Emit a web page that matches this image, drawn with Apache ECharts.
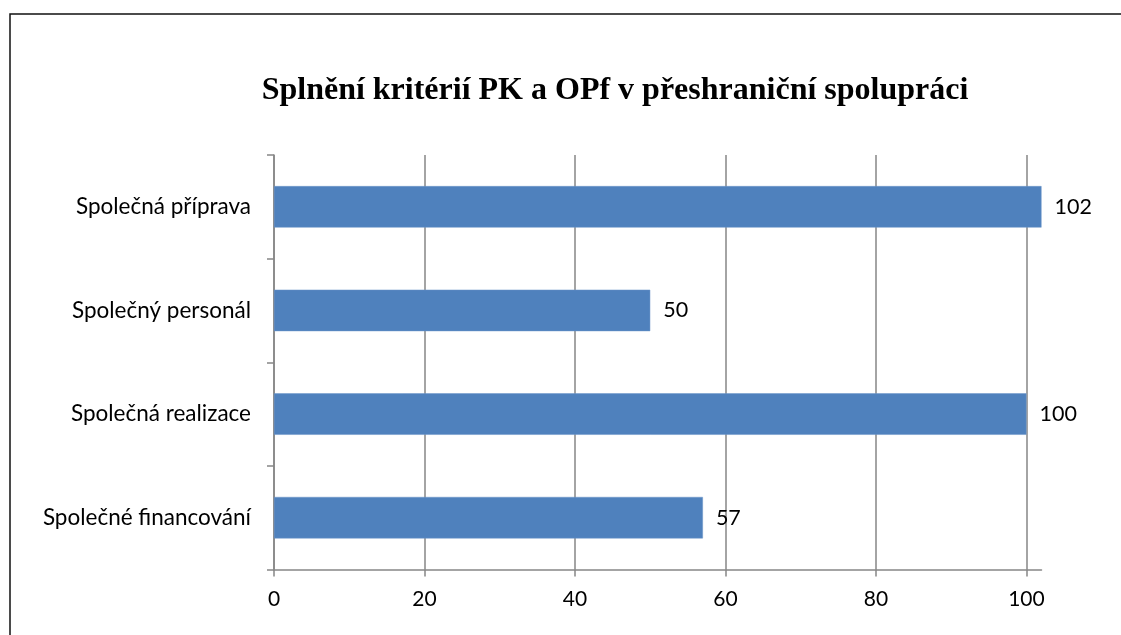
<!DOCTYPE html>
<html>
<head>
<meta charset="utf-8">
<script src="https://cdn.jsdelivr.net/npm/echarts@6/dist/echarts.min.js"></script>
<style>
  html, body { margin: 0; padding: 0; background: #fff; }
  #main { width: 1121px; height: 635px; }
</style>
</head>
<body>
<div id="main"></div>
<script>
// data
var chartTitle = 'Splnění kritérií PK a OPf v přeshraniční spolupráci';
var categories = ['Společné financování', 'Společná realizace', 'Společný personál', 'Společná příprava'];
var values = [57, 100, 50, 102];
var xTicks = [0, 20, 40, 60, 80, 100];

var myChart = echarts.init(document.getElementById('main'));

var labelFont = 'Lato, "Open Sans", "Noto Sans", sans-serif';

option = {
    animation: false,
    title: {
        text: chartTitle,
        left: 610,
        textAlign: 'center',
        top: 70,
        textStyle: {
            fontFamily: '"Liberation Serif", "Times New Roman", serif',
            fontWeight: 'bold',
            fontSize: 32,
            color: '#000'
        }
    },
    graphic: [{
        type: 'rect',
        shape: { x: 10, y: 14, width: 1200, height: 700 },
        style: { fill: 'none', stroke: '#111', lineWidth: 1.5 },
        silent: true
    }],
    grid: {
        left: 274,
        right: 79.5,
        top: 155,
        bottom: 65.5,
        containLabel: false
    },
    xAxis: {
        type: 'value',
        min: 0,
        max: 102,
        interval: 20,
        axisLine: { show: true, lineStyle: { color: '#868686', width: 1.5 } },
        axisTick: { show: true, length: 7, customValues: xTicks, lineStyle: { color: '#868686', width: 1.5 } },
        axisLabel: {
            customValues: xTicks,
            margin: 19,
            fontFamily: labelFont,
            fontSize: 21,
            color: '#000'
        },
        splitLine: { show: true, lineStyle: { color: '#868686', width: 1.5 } }
    },
    yAxis: {
        type: 'category',
        data: categories,
        axisLine: { show: true, lineStyle: { color: '#868686', width: 1.5 } },
        axisTick: { show: true, length: 7, lineStyle: { color: '#868686', width: 1.5 } },
        axisLabel: {
            margin: 23,
            fontFamily: labelFont,
            fontSize: 22.5,
            color: '#000'
        }
    },
    series: [{
        type: 'bar',
        data: values,
        barCategoryGap: '60%',
        itemStyle: { color: '#4F81BD', borderColor: '#6A95C9', borderWidth: 0.5 },
        label: {
            show: true,
            position: 'right',
            distance: 13,
            fontFamily: labelFont,
            fontSize: 21.5,
            color: '#000'
        }
    }]
};

myChart.setOption(option);
</script>
</body>
</html>
